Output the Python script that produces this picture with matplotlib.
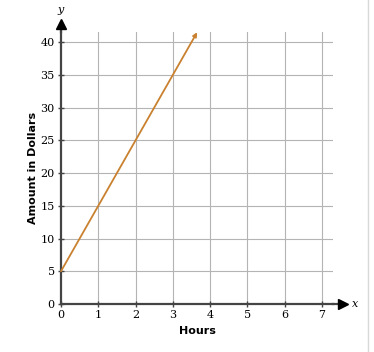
import matplotlib
matplotlib.use('Agg')
import matplotlib.pyplot as plt

# data
hours = [0, 3.65]
dollars = [5, 5 + 10 * 3.65]
x_ticks = [0, 1, 2, 3, 4, 5, 6, 7]
y_ticks = [0, 5, 10, 15, 20, 25, 30, 35, 40]

fig = plt.figure(figsize=(3.74, 3.52), dpi=100)
ax = fig.add_axes([0.1631, 0.1364, 0.728, 0.772])
ax.set_xlim(0, 7.3)
ax.set_ylim(0, 41.5)

for t in x_ticks[1:]:
	ax.axvline(t, color='#b4b4b4', lw=0.8, zorder=1)
for t in y_ticks[1:]:
	ax.axhline(t, color='#b4b4b4', lw=0.8, zorder=1)

for s in ['top', 'right']:
	ax.spines[s].set_visible(False)
for s in ['left', 'bottom']:
	ax.spines[s].set_color('#444444')
	ax.spines[s].set_linewidth(1.6)

# axis arrows
ax.plot([7.3, 7.5], [0, 0], color='#444444', lw=1.6, clip_on=False, zorder=3)
ax.plot([7.55], [0], marker='>', color='black', ms=7, clip_on=False, zorder=3)
ax.plot([0, 0], [41.5, 42.5], color='#444444', lw=1.6, clip_on=False, zorder=3)
ax.plot([0], [42.8], marker='^', color='black', ms=7, clip_on=False, zorder=3)
ax.text(7.8, 0, 'x', fontsize=8, style='italic', family='DejaVu Serif', va='center', ha='left')
ax.text(0, 44.2, 'y', fontsize=8, style='italic', family='DejaVu Serif', va='bottom', ha='center')

ax.annotate('', xy=(hours[1], dollars[1]), xytext=(hours[0], dollars[0]),
	arrowprops=dict(arrowstyle='-|>', color='#c9812f', lw=1.3, mutation_scale=6,
		shrinkA=0, shrinkB=0), zorder=4, annotation_clip=False)

ax.set_xticks(x_ticks)
ax.set_yticks(y_ticks)
ax.set_xticklabels([str(v) for v in x_ticks], family='DejaVu Serif', fontsize=8)
ax.set_yticklabels([str(v) for v in y_ticks], family='DejaVu Serif', fontsize=8)
ax.tick_params(direction='inout', length=5, width=1, color='#444444', pad=2)

ax.set_xlabel('Hours', fontweight='bold', fontsize=8, labelpad=4)
ax.set_ylabel('Amount in Dollars', fontweight='bold', fontsize=8, labelpad=2)

fig.add_artist(plt.Line2D([0.985, 0.985], [0.0, 1.0], color='#d8d8d8', lw=1))

plt.savefig('out.png', dpi=100)
